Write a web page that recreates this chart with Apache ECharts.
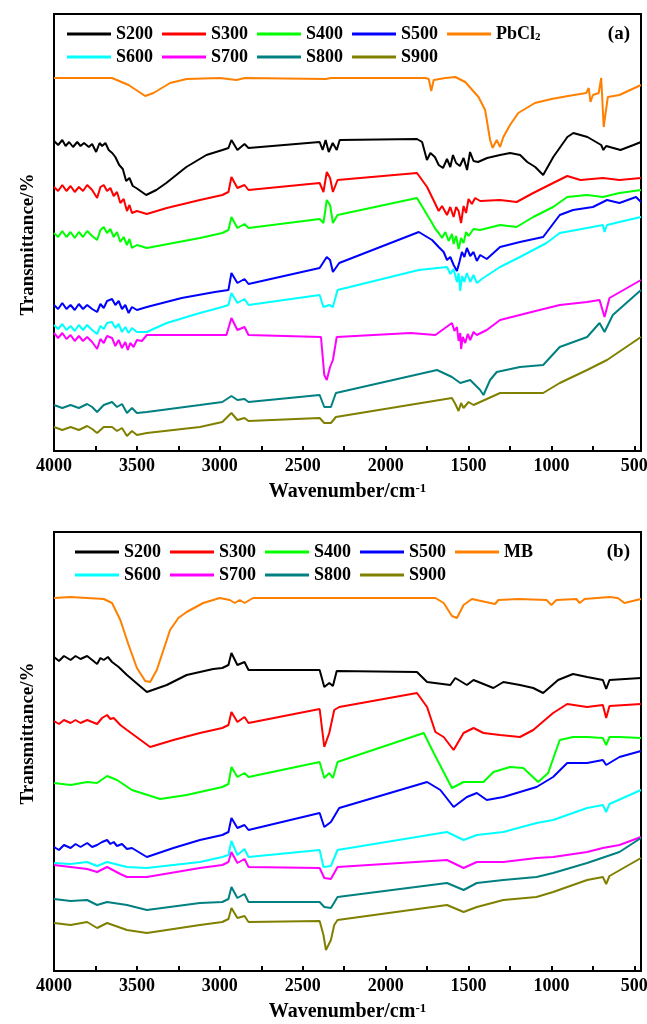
<!DOCTYPE html>
<html>
<head>
<meta charset="utf-8">
<title>FTIR</title>
<script src="https://cdn.jsdelivr.net/npm/echarts@6/dist/echarts.min.js"></script>
<style>
html, body { margin: 0; padding: 0; background: #fff; }
#chart { width: 647px; height: 1024px; }
</style>
</head>
<body>
<div id="chart"></div>
<script>
	// axis ticks (wavenumber, cm-1)
	var tickValues = [500, 750, 1000, 1250, 1500, 1750, 2000, 2250, 2500, 2750, 3000, 3250, 3500, 3750, 4000];
	var labelValues = [500, 1000, 1500, 2000, 2500, 3000, 3500, 4000];

	var sampleNames = ['S200', 'S300', 'S400', 'S500', 'S600', 'S700', 'S800', 'S900'];
	var sampleColors = ['#000000', '#ff0000', '#00ff00', '#0000ff', '#00ffff', '#ff00ff', '#008080', '#808000'];
	var refColor = '#ff8000';

	// ---- panel (a): [wavenumber, transmittance (a.u., offset)] ----
	var aPbCl2 = [[4000,37.3],[3650,37.3],[3550,36.6],[3450,35.5],[3400,35.8],[3300,36.8],[3200,37.2],[3000,37.3],[2900,37.1],[2850,37.3],[2360,37.2],[2330,37.3],[1760,37.3],[1740,37.2],[1725,36.0],[1710,37.1],[1640,37.3],[1580,37.4],[1520,36.9],[1440,35.4],[1400,34.1],[1370,31.1],[1355,30.3],[1330,31.1],[1310,30.4],[1290,31.4],[1250,32.6],[1200,33.8],[1100,34.8],[1000,35.2],[900,35.5],[790,35.8],[775,36.3],[765,34.9],[750,35.6],[715,35.8],[700,37.3],[685,32.4],[660,35.4],[590,35.6],[460,36.6]];
	var aS200 = [[4000,31.0],[3975,30.6],[3950,31.1],[3930,30.5],[3909,30.9],[3885,30.4],[3860,30.9],[3840,30.5],[3819,30.8],[3790,30.4],[3770,30.7],[3746,29.9],[3725,30.8],[3710,30.5],[3690,30.8],[3670,30.1],[3649,29.8],[3630,29.4],[3607,28.6],[3585,28.2],[3565,27.0],[3545,27.3],[3525,26.5],[3504,26.3],[3444,25.6],[3383,26.1],[3323,26.8],[3202,28.4],[3081,29.6],[2984,30.1],[2948,30.3],[2930,31.1],[2894,30.1],[2851,30.7],[2827,30.3],[2398,30.9],[2380,30.1],[2362,31.1],[2343,29.9],[2319,30.8],[2295,30.1],[2277,31.1],[1811,31.2],[1780,30.9],[1751,29.1],[1730,29.8],[1703,29.4],[1680,28.6],[1654,28.3],[1630,29.2],[1610,28.4],[1594,29.6],[1575,28.8],[1552,28.5],[1530,29.3],[1509,28.1],[1491,29.9],[1470,29.0],[1443,28.9],[1388,29.3],[1310,29.6],[1249,29.8],[1189,29.6],[1146,28.9],[1098,28.4],[1050,27.6],[989,29.4],[904,31.4],[868,31.8],[783,31.4],[700,30.6],[687,30.1],[670,30.5],[584,30.1],[505,30.6],[460,30.9]];
	var aS300 = [[4000,26.4],[3975,26.0],[3950,26.6],[3925,26.0],[3900,26.5],[3875,25.9],[3850,26.4],[3825,26.0],[3800,26.6],[3770,26.1],[3740,25.3],[3720,26.4],[3700,26.6],[3680,26.0],[3660,26.3],[3640,25.5],[3620,25.9],[3600,24.8],[3580,25.2],[3560,24.0],[3545,24.6],[3530,23.8],[3500,24.0],[3440,23.7],[3320,24.3],[3120,25.1],[2985,25.6],[2948,25.9],[2930,27.4],[2894,26.3],[2851,26.6],[2827,26.1],[2398,26.8],[2375,25.9],[2355,27.9],[2335,27.3],[2318,25.9],[2290,27.1],[1811,27.8],[1750,26.4],[1703,24.8],[1680,24.0],[1660,24.5],[1630,23.6],[1610,24.4],[1590,23.4],[1575,24.4],[1560,24.0],[1545,22.8],[1530,24.5],[1515,23.8],[1500,25.2],[1480,24.7],[1460,25.3],[1430,25.0],[1310,25.1],[1210,24.9],[1110,25.8],[990,26.8],[905,27.5],[825,27.1],[690,27.3],[590,27.1],[460,27.3]];
	var aS400 = [[4000,21.8],[3975,21.4],[3950,22.0],[3925,21.4],[3900,21.9],[3875,21.3],[3850,21.9],[3825,21.4],[3800,22.0],[3770,21.5],[3740,21.1],[3720,22.1],[3700,22.4],[3680,21.8],[3660,22.2],[3640,21.4],[3620,21.9],[3600,20.9],[3580,21.4],[3560,20.6],[3545,21.2],[3530,20.3],[3500,20.6],[3440,20.3],[3120,21.3],[2985,21.8],[2948,22.1],[2930,23.4],[2894,22.3],[2851,22.7],[2827,22.3],[2398,23.2],[2375,22.8],[2355,25.1],[2335,24.6],[2318,22.8],[2290,23.6],[1811,25.3],[1720,22.8],[1700,22.2],[1680,21.8],[1660,21.3],[1640,21.9],[1620,21.0],[1600,21.7],[1590,20.7],[1575,21.5],[1560,20.2],[1545,21.3],[1530,20.8],[1515,21.9],[1500,21.5],[1470,22.2],[1430,22.1],[1310,22.6],[1210,22.4],[1110,23.4],[990,24.4],[905,25.4],[785,25.6],[690,25.4],[590,25.8],[460,26.1]];
	var aS500 = [[4000,14.6],[3975,14.2],[3950,14.8],[3925,14.2],[3900,14.6],[3875,14.1],[3850,14.7],[3825,14.2],[3800,14.6],[3770,14.2],[3740,13.9],[3720,14.7],[3700,14.3],[3680,15.0],[3650,15.2],[3630,14.6],[3610,15.0],[3590,14.2],[3570,14.6],[3550,13.8],[3530,14.4],[3500,14.1],[3440,14.4],[3230,15.3],[3030,15.9],[2948,16.1],[2930,17.8],[2894,16.8],[2851,17.2],[2827,16.7],[2398,18.3],[2355,19.4],[2335,19.1],[2318,17.9],[2280,18.8],[1800,21.9],[1720,21.1],[1680,20.4],[1650,19.9],[1630,19.1],[1610,19.4],[1590,18.6],[1570,18.0],[1555,18.9],[1540,19.9],[1525,19.4],[1510,20.3],[1490,19.5],[1470,19.9],[1450,19.0],[1430,19.6],[1390,19.2],[1310,20.4],[1190,20.9],[1050,21.4],[950,23.6],[870,24.1],[750,24.4],[665,25.1],[590,24.8],[490,25.4],[460,24.9]];
	var aS600 = [[4000,12.6],[3975,12.2],[3950,12.7],[3925,12.1],[3900,12.5],[3875,12.0],[3850,12.6],[3825,12.1],[3800,12.6],[3770,12.1],[3740,11.7],[3720,12.5],[3700,12.2],[3680,12.8],[3650,12.9],[3630,12.3],[3610,12.7],[3590,11.9],[3570,12.4],[3550,11.8],[3530,12.3],[3500,11.9],[3440,11.9],[3320,12.8],[3120,13.8],[2985,14.4],[2948,14.6],[2930,15.8],[2894,14.8],[2851,15.2],[2827,14.6],[2398,15.6],[2375,14.4],[2340,14.6],[2318,14.4],[2290,16.1],[1800,18.1],[1630,18.4],[1610,17.7],[1590,18.2],[1570,16.9],[1560,17.8],[1550,16.0],[1540,17.5],[1525,16.9],[1510,17.8],[1490,16.9],[1470,17.6],[1450,16.8],[1420,17.2],[1310,18.4],[1190,19.4],[1030,20.8],[950,21.8],[785,22.3],[690,22.6],[680,21.9],[665,22.6],[590,22.9],[460,23.4]];
	var aS700 = [[4000,11.8],[3975,11.3],[3950,11.8],[3925,11.2],[3900,11.6],[3875,11.0],[3850,11.5],[3825,11.0],[3800,11.4],[3770,10.9],[3740,10.2],[3720,11.2],[3700,10.8],[3680,11.5],[3650,11.3],[3630,10.5],[3610,11.1],[3590,10.3],[3570,10.9],[3555,10.1],[3540,10.8],[3520,10.4],[3500,11.1],[3470,11.0],[3440,11.6],[2960,11.6],[2930,13.3],[2894,12.1],[2851,12.4],[2827,11.6],[2390,11.4],[2370,7.6],[2355,7.1],[2335,8.4],[2318,9.1],[2295,11.4],[1850,11.8],[1700,11.6],[1600,12.8],[1585,12.0],[1570,12.4],[1560,11.0],[1550,11.8],[1545,10.2],[1535,11.4],[1520,10.8],[1505,11.7],[1490,11.1],[1470,11.9],[1450,11.6],[1390,12.1],[1310,13.1],[1120,13.9],[950,14.6],[785,14.9],[710,15.1],[680,13.4],[650,15.3],[460,17.1]];
	var aS800 = [[4000,4.6],[3950,4.3],[3900,4.6],[3850,4.3],[3800,4.7],[3770,4.4],[3740,3.9],[3700,4.6],[3650,4.9],[3620,4.4],[3590,4.7],[3560,3.8],[3530,4.3],[3500,3.8],[3440,3.9],[3120,4.6],[2985,4.9],[2930,5.5],[2894,5.1],[2851,5.2],[2827,4.9],[2398,5.6],[2370,4.4],[2330,4.4],[2300,5.8],[1690,8.1],[1600,7.4],[1550,6.8],[1490,7.1],[1430,6.1],[1410,5.6],[1370,7.1],[1330,7.9],[1190,8.4],[1050,8.6],[950,10.4],[785,11.4],[710,12.8],[680,11.9],[630,13.6],[460,16.1]];
	var aS900 = [[4000,2.4],[3950,2.1],[3900,2.4],[3850,2.1],[3800,2.5],[3770,2.2],[3740,1.8],[3700,2.4],[3650,2.4],[3620,2.0],[3590,2.3],[3560,1.5],[3530,2.0],[3500,1.6],[3440,1.8],[3120,2.4],[2985,2.9],[2930,3.8],[2894,3.1],[2851,3.3],[2827,3.0],[2398,3.3],[2370,2.8],[2330,2.8],[2300,3.4],[1600,5.3],[1580,4.7],[1560,4.0],[1545,4.8],[1530,4.3],[1500,4.9],[1470,4.6],[1310,5.8],[1050,5.8],[950,6.8],[785,8.1],[665,9.1],[460,11.4]];

	// ---- panel (b) ----
	var bMB = [[4000,37.3],[3900,37.4],[3800,37.3],[3700,37.2],[3650,36.8],[3600,35.1],[3550,32.6],[3500,30.3],[3450,29.0],[3420,28.9],[3380,30.1],[3330,32.6],[3300,34.1],[3250,35.3],[3200,35.9],[3100,36.8],[3000,37.3],[2940,37.1],[2910,36.8],[2880,37.1],[2850,36.8],[2800,37.3],[1700,37.3],[1650,36.8],[1600,35.5],[1570,35.3],[1530,36.6],[1480,37.2],[1340,36.7],[1320,37.1],[1200,37.2],[1030,37.1],[1000,36.6],[970,37.1],[850,37.2],[830,36.8],[800,37.2],[650,37.4],[600,37.3],[560,36.8],[460,37.2]];
	var bS200 = [[4000,31.4],[3970,31.0],[3940,31.5],[3900,31.1],[3870,31.5],[3840,31.2],[3800,31.5],[3770,31.1],[3740,30.7],[3720,31.3],[3700,31.1],[3675,31.4],[3650,30.9],[3610,30.4],[3560,29.6],[3440,27.9],[3320,28.6],[3200,29.6],[3040,30.2],[2985,30.3],[2948,30.6],[2930,31.8],[2894,30.6],[2851,30.9],[2827,30.1],[2398,30.1],[2370,28.4],[2340,28.8],[2318,28.5],[2295,30.0],[1811,29.9],[1750,28.9],[1610,28.6],[1580,29.3],[1510,28.6],[1470,29.1],[1350,28.3],[1290,28.9],[1190,28.6],[1110,28.3],[1050,27.8],[960,29.1],[870,29.7],[785,29.4],[690,29.1],[670,28.2],[650,29.1],[460,29.3]];
	var bS300 = [[4000,25.0],[3970,24.7],[3940,25.1],[3900,24.8],[3870,25.1],[3840,24.8],[3800,25.1],[3770,24.9],[3740,24.7],[3710,25.3],[3680,25.6],[3660,25.2],[3640,25.3],[3600,24.6],[3560,24.1],[3420,22.4],[3280,23.1],[3120,23.8],[2985,24.3],[2948,24.6],[2930,25.9],[2894,24.9],[2851,25.4],[2827,24.8],[2398,26.2],[2370,22.4],[2340,23.8],[2310,26.1],[2280,26.4],[1811,27.8],[1750,26.4],[1700,23.9],[1650,23.4],[1590,22.1],[1530,23.8],[1470,24.3],[1410,23.8],[1310,23.6],[1190,23.4],[1110,24.1],[990,25.8],[905,26.7],[785,26.4],[690,26.6],[670,25.3],[650,26.5],[460,26.7]];
	var bS400 = [[4000,18.8],[3900,18.6],[3800,18.9],[3740,18.8],[3680,19.5],[3620,19.1],[3530,18.1],[3360,17.2],[3200,17.6],[2985,18.4],[2948,18.7],[2930,20.4],[2894,19.4],[2851,19.8],[2827,19.4],[2398,20.9],[2370,19.3],[2340,19.8],[2318,19.3],[2290,20.9],[2220,21.3],[1770,23.8],[1710,21.8],[1600,18.3],[1530,18.9],[1410,18.9],[1350,19.9],[1250,20.4],[1170,20.3],[1080,18.9],[1020,19.8],[950,23.1],[870,23.4],[785,23.4],[690,23.3],[670,22.6],[650,23.4],[590,23.4],[460,23.3]];
	var bS500 = [[4000,12.4],[3970,12.1],[3940,12.6],[3900,12.3],[3870,12.7],[3840,12.4],[3800,12.8],[3770,12.4],[3740,12.6],[3710,12.9],[3680,13.1],[3660,12.7],[3640,12.9],[3620,12.5],[3590,12.7],[3560,12.2],[3530,12.3],[3440,11.4],[3280,12.3],[3120,13.1],[2985,13.6],[2948,13.9],[2930,15.3],[2894,14.3],[2851,14.6],[2827,14.1],[2398,15.8],[2370,14.4],[2330,14.9],[2280,16.3],[1750,18.9],[1670,18.1],[1590,16.4],[1510,17.4],[1450,17.8],[1390,17.1],[1290,17.4],[1090,18.4],[990,19.4],[905,20.8],[785,20.8],[690,21.1],[670,20.6],[590,21.4],[460,22.0]];
	var bS600 = [[4000,10.8],[3900,10.7],[3800,10.9],[3740,10.5],[3680,10.9],[3560,10.4],[3440,10.3],[3120,10.9],[2985,11.4],[2948,11.6],[2930,13.0],[2894,11.6],[2851,12.2],[2827,11.4],[2398,12.1],[2375,10.4],[2330,10.5],[2290,12.1],[1630,13.9],[1530,13.1],[1450,13.6],[1290,13.9],[1090,14.8],[990,15.1],[785,16.3],[690,16.6],[670,15.9],[650,16.7],[460,18.1]];
	var bS700 = [[4000,10.6],[3900,10.4],[3800,10.2],[3740,9.9],[3680,10.4],[3600,9.7],[3560,9.4],[3440,9.4],[3120,10.3],[2985,10.6],[2948,10.9],[2930,11.9],[2894,10.8],[2851,11.2],[2827,10.4],[2398,10.3],[2370,9.3],[2330,9.2],[2290,10.4],[1630,11.1],[1530,10.3],[1450,10.9],[1290,10.9],[1090,11.3],[990,11.4],[785,11.9],[690,12.3],[590,12.6],[460,13.4]];
	var bS800 = [[4000,7.2],[3900,7.0],[3800,7.1],[3740,6.6],[3680,6.9],[3560,6.6],[3440,6.1],[3120,6.8],[2985,6.9],[2948,7.2],[2930,8.4],[2894,7.3],[2851,7.7],[2827,6.9],[2398,6.9],[2370,6.4],[2330,6.3],[2290,7.4],[1630,8.8],[1530,8.1],[1450,8.8],[1290,9.1],[1090,9.4],[990,9.8],[785,10.8],[590,11.9],[460,13.3]];
	var bS900 = [[4000,4.8],[3900,4.6],[3800,4.9],[3740,4.3],[3680,4.8],[3560,4.1],[3440,3.8],[3120,4.6],[2985,4.9],[2948,5.2],[2930,6.3],[2894,5.3],[2851,5.5],[2827,4.9],[2398,5.0],[2375,3.6],[2360,2.1],[2345,2.6],[2330,3.1],[2310,4.6],[2290,5.1],[1630,6.6],[1530,5.9],[1450,6.4],[1290,7.1],[1090,7.4],[990,7.9],[785,9.1],[690,9.4],[670,8.7],[650,9.5],[460,11.3]];

	var panelA = [aS200, aS300, aS400, aS500, aS600, aS700, aS800, aS900];
	var panelB = [bS200, bS300, bS400, bS500, bS600, bS700, bS800, bS900];

	var serif = '"Liberation Serif", "Times New Roman", serif';

	var myChart = echarts.init(document.getElementById('chart'), null, { renderer: 'canvas' });

	function xAxisFor(grid) {
		return {
			type: 'value', gridIndex: grid, inverse: true, min: 460, max: 4000,
			name: 'Wavenumber/cm{sup|-1}', nameLocation: 'middle', nameGap: 31,
			nameTextStyle: {
				color: '#000', fontFamily: serif, fontWeight: 'bold', fontSize: 20,
				rich: { sup: { fontSize: 13, fontWeight: 'bold', fontFamily: serif, color: '#000', verticalAlign: 'top', lineHeight: 10 } }
			},
			axisLine: { show: true, lineStyle: { color: '#000', width: 2 } },
			axisTick: { show: true, inside: true, length: 5, lineStyle: { color: '#000', width: 2 }, customValues: tickValues },
			axisLabel: {
				color: '#000', fontFamily: serif, fontWeight: 'bold', fontSize: 18, margin: 6,
				customValues: labelValues, hideOverlap: false,
				formatter: function (v) { return String(v); }
			},
			splitLine: { show: false }
		};
	}
	// pad shifts the rotated name along the axis
	function yAxisFor(grid, top, pad) {
		return {
			type: 'value', gridIndex: grid, min: 0, max: top,
			name: 'Transmittance/%', nameLocation: 'middle', nameGap: 16,
			nameTextStyle: { color: '#000', fontFamily: serif, fontWeight: 'bold', fontSize: 19, padding: pad },
			axisLine: { show: false }, axisTick: { show: false }, axisLabel: { show: false }, splitLine: { show: false }
		};
	}
	function legendFor(names, left, top) {
		return {
			data: names, left: left, top: top, orient: 'horizontal', itemGap: 9,
			icon: 'rect', itemWidth: 44, itemHeight: 3,
			formatter: function (n) { return n === 'PbCl2' ? 'PbCl{sub|2}' : n; },
			textStyle: {
				color: '#000', fontFamily: serif, fontWeight: 'bold', fontSize: 18,
				rich: { sub: { fontSize: 11, fontWeight: 'bold', fontFamily: serif, color: '#000', verticalAlign: 'bottom', lineHeight: 8 } }
			}
		};
	}

	var series = [];
	function addPanel(grid, datas, refName, refData) {
		series.push({
			name: refName, type: 'line', xAxisIndex: grid, yAxisIndex: grid, data: refData,
			showSymbol: false, lineStyle: { color: refColor, width: 2 }, itemStyle: { color: refColor }
		});
		for (var i = 0; i < datas.length; i++) {
			series.push({
				name: sampleNames[i], type: 'line', xAxisIndex: grid, yAxisIndex: grid, data: datas[i],
				showSymbol: false, lineStyle: { color: sampleColors[i], width: 2 }, itemStyle: { color: sampleColors[i] }
			});
		}
	}
	addPanel(0, panelA, 'PbCl2', aPbCl2);
	addPanel(1, panelB, 'MB', bMB);

	var gridBase = { left: 54, right: 6, show: true, borderColor: '#000', borderWidth: 2, containLabel: false, outerBoundsMode: 'none' };
	var option = {
		animation: false,
		backgroundColor: '#fff',
		grid: [
			Object.assign({ top: 14, height: 437 }, gridBase),
			Object.assign({ top: 532, height: 439 }, gridBase)
		],
		xAxis: [xAxisFor(0), xAxisFor(1)],
		yAxis: [yAxisFor(0, 43.7, [0, 24, 0, 0]), yAxisFor(1, 43.9, [0, 0, 0, 36])],
		legend: [
			legendFor(['S200', 'S300', 'S400', 'S500', 'PbCl2'], 62, 20),
			legendFor(['S600', 'S700', 'S800', 'S900'], 62, 43),
			legendFor(['S200', 'S300', 'S400', 'S500', 'MB'], 70, 538),
			legendFor(['S600', 'S700', 'S800', 'S900'], 70, 561)
		],
		title: [
			{ text: '(a)', right: 12, top: 20, textStyle: { color: '#000', fontFamily: serif, fontWeight: 'bold', fontSize: 19 } },
			{ text: '(b)', right: 12, top: 538, textStyle: { color: '#000', fontFamily: serif, fontWeight: 'bold', fontSize: 19 } }
		],
		series: series
	};
	myChart.setOption(option);
</script>
</body>
</html>
